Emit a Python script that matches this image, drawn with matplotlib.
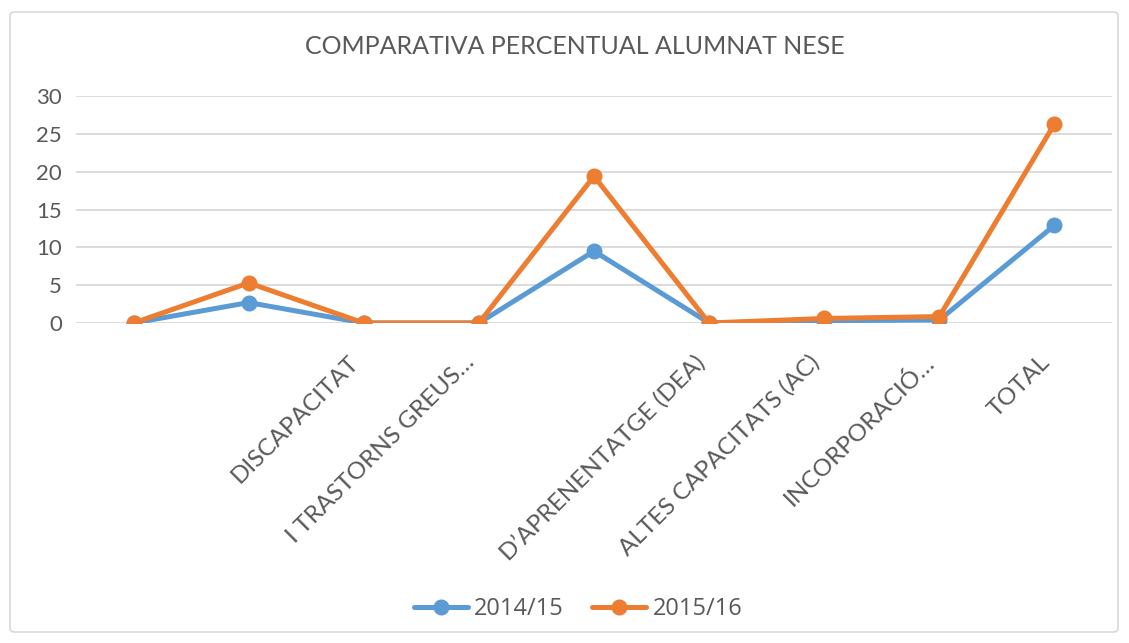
import matplotlib
matplotlib.use("Agg")
import matplotlib.pyplot as plt
from matplotlib.patches import FancyBboxPatch

categories = ["", "", "DISCAPACITAT", "I TRASTORNS GREUS…", "",
              "D’APRENENTATGE (DEA)", "ALTES CAPACITATS (AC)", "INCORPORACIÓ…", "TOTAL"]
series_2014_15 = [0, 2.7, 0, 0, 9.5, 0, 0.3, 0.4, 12.9]
series_2015_16 = [0, 5.3, 0, 0, 19.4, 0, 0.6, 0.85, 26.3]
yticks = [0, 5, 10, 15, 20, 25, 30]
title = "COMPARATIVA PERCENTUAL ALUMNAT NESE"

W, H = 1129, 643
fig = plt.figure(figsize=(W / 100, H / 100), dpi=100)
fig.patch.set_facecolor("white")

border = FancyBboxPatch((10 / W, 11 / H), 1108 / W, 620 / H,
                        boxstyle="round,pad=0,rounding_size=0.005",
                        transform=fig.transFigure, fill=False,
                        edgecolor="#D9D9D9", linewidth=1.2)
fig.patches.append(border)

ax = fig.add_axes([76 / W, 1 - 323 / H, (1112 - 76) / W, (323 - 96) / H])
x = list(range(len(categories)))
txt = "#595959"
font = "Lato"

ax.plot(x, series_2014_15, color="#5B9BD5", lw=3.6, marker="o", ms=10.5,
        solid_capstyle="round", label="2014/15", zorder=3)
ax.plot(x, series_2015_16, color="#ED7D31", lw=3.6, marker="o", ms=10.5,
        solid_capstyle="round", label="2015/16", zorder=4)

ax.set_xlim(-0.5, len(categories) - 0.5)
ax.set_ylim(0, 30)
ax.set_yticks(yticks)
ax.set_yticklabels([str(v) for v in yticks], fontsize=16, color=txt, family=font)
ax.set_xticks(x)
ax.set_xticklabels(categories, rotation=45, ha="right", va="center",
                   rotation_mode="anchor", fontsize=17.5, color=txt, family=font)
for lab in ax.get_xticklabels():
    lab.set_x(lab.get_position()[0])
ax.tick_params(axis="both", length=0)
ax.tick_params(axis="y", pad=10)
ax.tick_params(axis="x", pad=26)
ax.grid(axis="y", color="#D9D9D9", lw=1.3)
ax.set_axisbelow(True)
for s in ax.spines.values():
    s.set_visible(False)

# shift rotated labels slightly left, as in the reference
import matplotlib.transforms as mtransforms
offset = mtransforms.ScaledTranslation(-8 / 100, 0, fig.dpi_scale_trans)
for lab in ax.get_xticklabels():
    lab.set_transform(lab.get_transform() + offset)

fig.text(575 / W, 1 - 47 / H, title, ha="center", va="center",
         fontsize=18, color=txt, family=font)

leg = fig.legend(loc="center", bbox_to_anchor=(578 / W, 1 - 609 / H), ncol=2,
                 frameon=False, fontsize=17, handlelength=2.3, columnspacing=1.2,
                 handletextpad=0.25)
for t in leg.get_texts():
    t.set_color(txt)
    t.set_family("Open Sans")

fig.savefig("out.png", dpi=100)
